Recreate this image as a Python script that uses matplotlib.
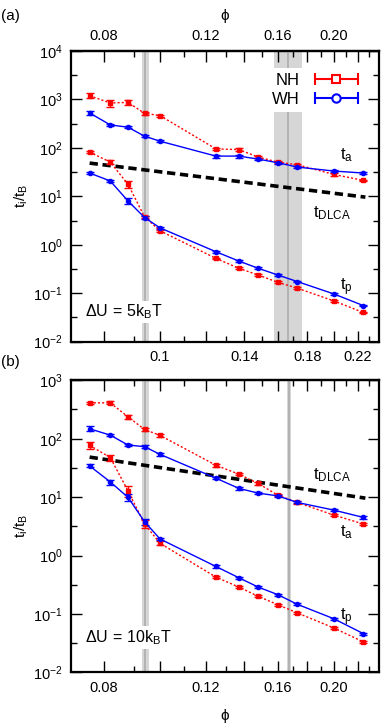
import numpy as np
import matplotlib
matplotlib.use("Agg")
import matplotlib.pyplot as plt
from matplotlib.ticker import FixedLocator, FixedFormatter, LogLocator, LogFormatterMathtext, NullFormatter
from matplotlib.lines import Line2D
from matplotlib.legend_handler import HandlerLine2D, HandlerTuple

plt.rcParams['font.family'] = ['Liberation Sans', 'DejaVu Sans']
plt.rcParams['mathtext.fontset'] = 'custom'
plt.rcParams['mathtext.rm'] = 'Liberation Sans'
plt.rcParams['mathtext.it'] = 'Liberation Sans'
plt.rcParams['font.size'] = 10.5

# volume fractions
phi = [0.0755, 0.082, 0.088, 0.094, 0.1, 0.125, 0.137, 0.148, 0.16, 0.173, 0.2, 0.225]

# panel (a): dU = 5 kBT
a_nh_ta = [1190, 840, 867, 515, 462, 95, 92, 64.5, 50.7, 44.7, 28.3, 21.3]
a_wh_ta = [524, 297, 266, 174, 137, 67.5, 67.5, 58.5, 49.2, 40.1, 33.2, 30.2]
a_nh_tp = [81.5, 50.7, 17.7, 3.76, 1.94, 0.524, 0.327, 0.238, 0.168, 0.127, 0.0696, 0.0401]
a_wh_tp = [30.2, 20.7, 8.0, 3.65, 2.23, 0.718, 0.461, 0.327, 0.238, 0.174, 0.097, 0.0558]
a_nh_ta_err = [0.12, 0.16, 0.1, 0.07, 0.05, 0.05, 0.07, 0.05, 0.04, 0.06, 0.06, 0.04]
a_wh_ta_err = [0.1, 0.06, 0.04, 0.05, 0.04, 0.07, 0.07, 0.06, 0.05, 0.05, 0.05, 0.04]
a_nh_tp_err = [0.06, 0.1, 0.15, 0.05, 0.06, 0.04, 0.04, 0.04, 0.04, 0.04, 0.04, 0.04]
a_wh_tp_err = [0.06, 0.06, 0.15, 0.08, 0.06, 0.04, 0.04, 0.04, 0.04, 0.04, 0.04, 0.04]

# panel (b): dU = 10 kBT
b_nh_ta = [411, 411, 237, 144, 114, 35.1, 24.7, 17.1, 10.8, 8.1, 4.93, 3.47]
b_wh_ta = [148, 115, 78, 73, 54, 21.1, 14.1, 11.7, 10.5, 8.1, 6.0, 4.5]
b_nh_tp = [77, 47.4, 12.8, 3.47, 1.62, 0.427, 0.288, 0.2, 0.144, 0.104, 0.0577, 0.0333]
b_wh_tp = [34.2, 18.2, 9.9, 3.8, 1.92, 0.649, 0.416, 0.288, 0.214, 0.146, 0.083, 0.0462]
b_nh_ta_err = [0.05, 0.06, 0.08, 0.05, 0.05, 0.06, 0.05, 0.05, 0.05, 0.05, 0.05, 0.05]
b_wh_ta_err = [0.1, 0.05, 0.04, 0.05, 0.05, 0.05, 0.05, 0.04, 0.04, 0.04, 0.05, 0.05]
b_nh_tp_err = [0.12, 0.12, 0.2, 0.15, 0.08, 0.05, 0.04, 0.04, 0.04, 0.04, 0.04, 0.04]
b_wh_tp_err = [0.06, 0.1, 0.12, 0.12, 0.05, 0.04, 0.04, 0.04, 0.04, 0.04, 0.04, 0.04]

# DLCA reference line
phi_dlca = [0.0755, 0.227]
t_dlca = [48.4, 9.6]

# transition regions (gray bands): (lo, centre, hi)
a_bands = [(0.0929, 0.0943, 0.0957), (0.1577, 0.167, 0.1764)]
b_bands = [(0.0929, 0.0943, 0.0957), (0.1657, 0.1672, 0.1688)]

RED = '#ff0000'
BLUE = '#0000ff'

fig = plt.figure(figsize=(3.82, 7.27), dpi=100)
ax1 = fig.add_axes([0.185, 0.530, 0.808, 0.400])
ax2 = fig.add_axes([0.185, 0.0752, 0.808, 0.4017])


def band(ax, bands):
    for lo, c, hi in bands:
        ax.axvspan(lo, hi, color='#d6d6d6', lw=0, zorder=0)
        ax.axvline(c, color='#b0b0b0', lw=1.3, zorder=0.5)


def series(ax, y, err, color, ls, marker):
    y = np.array(y)
    e = y * np.array(err)
    ax.errorbar(phi, y, yerr=e, color=color, ls=ls, lw=1.0, marker=marker,
                ms=3, capsize=3, elinewidth=1.0, capthick=1.0, zorder=3)


def style(ax, ymin, ymax, toplabels, bottomlabels):
    ax.set_xscale('log')
    ax.set_yscale('log')
    ax.set_xlim(0.07, 0.24)
    ax.set_ylim(ymin, ymax)
    major = [0.08, 0.10, 0.12, 0.14, 0.16, 0.18, 0.20, 0.22]
    minor = [0.09, 0.11, 0.13, 0.15, 0.17, 0.19, 0.21, 0.23]
    ax.xaxis.set_major_locator(FixedLocator(major))
    ax.xaxis.set_minor_locator(FixedLocator(minor))
    ax.xaxis.set_major_formatter(FixedFormatter(bottomlabels))
    ax.xaxis.set_minor_formatter(NullFormatter())
    ax.yaxis.set_major_locator(LogLocator(base=10, numticks=20))
    ax.yaxis.set_major_formatter(LogFormatterMathtext())
    lo, hi = int(np.log10(ymin)), int(np.log10(ymax))
    ax.yaxis.set_minor_locator(FixedLocator([10 ** (n + 0.5) for n in range(lo, hi)]))
    ax.yaxis.set_minor_formatter(NullFormatter())
    ax.tick_params(which='both', direction='in', top=True, right=True, width=1.0)
    ax.tick_params(which='major', length=8, labelsize=10.5, pad=6)
    ax.tick_params(which='minor', length=4)
    for s in ax.spines.values():
        s.set_linewidth(1.6)
    sec = ax.secondary_xaxis('top')
    sec.set_xscale('log')
    sec.xaxis.set_major_locator(FixedLocator(major))
    sec.xaxis.set_minor_locator(FixedLocator(minor))
    sec.xaxis.set_major_formatter(FixedFormatter(toplabels))
    sec.xaxis.set_minor_formatter(NullFormatter())
    sec.tick_params(which='both', direction='in', width=1.0)
    sec.tick_params(which='major', length=8, labelsize=10.5, pad=6)
    sec.tick_params(which='minor', length=4)
    sec.spines['top'].set_linewidth(1.6)
    ax.tick_params(which='both', top=False)
    return sec


# panel (a)
band(ax1, a_bands)
series(ax1, a_nh_ta, a_nh_ta_err, RED, (0, (1.5, 1.5)), 's')
series(ax1, a_nh_tp, a_nh_tp_err, RED, (0, (1.5, 1.5)), 's')
series(ax1, a_wh_ta, a_wh_ta_err, BLUE, '-', 'o')
series(ax1, a_wh_tp, a_wh_tp_err, BLUE, '-', 'o')
ax1.plot(phi_dlca, t_dlca, color='black', lw=2.6, dashes=(2.3, 1.3), zorder=2)
sec1 = style(ax1, 1e-2, 1e4, ['0.08', '', '0.12', '', '0.16', '', '0.20', ''],
             ['', '0.1', '', '0.14', '', '0.18', '', '0.22'])
sec1.set_xlabel('ϕ', fontsize=11, labelpad=6)
ax1.set_ylabel(r'$\mathregular{t_i/t_B}$', fontsize=11, labelpad=2)

# panel (b)
band(ax2, b_bands)
series(ax2, b_nh_ta, b_nh_ta_err, RED, (0, (1.5, 1.5)), 's')
series(ax2, b_nh_tp, b_nh_tp_err, RED, (0, (1.5, 1.5)), 's')
series(ax2, b_wh_ta, b_wh_ta_err, BLUE, '-', 'o')
series(ax2, b_wh_tp, b_wh_tp_err, BLUE, '-', 'o')
ax2.plot(phi_dlca, t_dlca, color='black', lw=2.6, dashes=(2.3, 1.3), zorder=2)
style(ax2, 1e-2, 1e3, [''] * 8, ['0.08', '', '0.12', '', '0.16', '', '0.20', ''])
ax2.set_xlabel('ϕ', fontsize=11, labelpad=10)
ax2.set_ylabel(r'$\mathregular{t_i/t_B}$', fontsize=11, labelpad=2)

# legend (panel a)
nh_bar = Line2D([], [], color=RED, lw=1.5, marker='|', ms=9, mew=1.5)
nh_mk = Line2D([], [], color=RED, lw=0, marker='s', ms=6, mfc='white', mew=1.5)
wh_bar = Line2D([], [], color=BLUE, lw=1.5, marker='|', ms=9, mew=1.5)
wh_mk = Line2D([], [], color=BLUE, lw=0, marker='o', ms=6, mfc='white', mew=1.5)
hm = {nh_bar: HandlerLine2D(numpoints=2), wh_bar: HandlerLine2D(numpoints=2),
      nh_mk: HandlerLine2D(numpoints=1), wh_mk: HandlerLine2D(numpoints=1),
      tuple: HandlerTuple(ndivide=1, pad=0)}
leg = ax1.legend([(nh_bar, nh_mk), (wh_bar, wh_mk)], ['NH', 'WH'], loc='upper right',
                 bbox_to_anchor=(0.99, 0.97), frameon=True, markerfirst=False,
                 handlelength=3.2, handletextpad=0.6, labelspacing=0.25,
                 fontsize=12, handler_map=hm, borderpad=0.3)
leg.get_frame().set_edgecolor('none')
leg.get_frame().set_facecolor('white')
leg.get_frame().set_alpha(1)
leg.set_zorder(5)

# annotations
box = dict(facecolor='white', edgecolor='none', pad=1.5)
ax1.text(0.873, 0.642, r'$\mathregular{t_a}$', transform=ax1.transAxes, fontsize=12, va='center')
ax1.text(0.785, 0.442, r'$\mathregular{t_{DLCA}}$', transform=ax1.transAxes, fontsize=12, va='center')
ax1.text(0.873, 0.188, r'$\mathregular{t_p}$', transform=ax1.transAxes, fontsize=12, va='center')
ax1.text(0.046, 0.102, r'$\mathregular{\Delta U\,=\,5k_BT}$', transform=ax1.transAxes,
         fontsize=11.5, va='center', bbox=box, zorder=6)
ax2.text(0.785, 0.676, r'$\mathregular{t_{DLCA}}$', transform=ax2.transAxes, fontsize=12, va='center')
ax2.text(0.873, 0.48, r'$\mathregular{t_a}$', transform=ax2.transAxes, fontsize=12, va='center')
ax2.text(0.873, 0.19, r'$\mathregular{t_p}$', transform=ax2.transAxes, fontsize=12, va='center')
ax2.text(0.046, 0.12, r'$\mathregular{\Delta U\,=\,10k_BT}$', transform=ax2.transAxes,
         fontsize=11.5, va='center', bbox=box, zorder=6)

fig.text(0.003, 0.988, '(a)', fontsize=11, va='top')
fig.text(0.003, 0.512, '(b)', fontsize=11, va='top')

fig.savefig('out.png', dpi=100)
